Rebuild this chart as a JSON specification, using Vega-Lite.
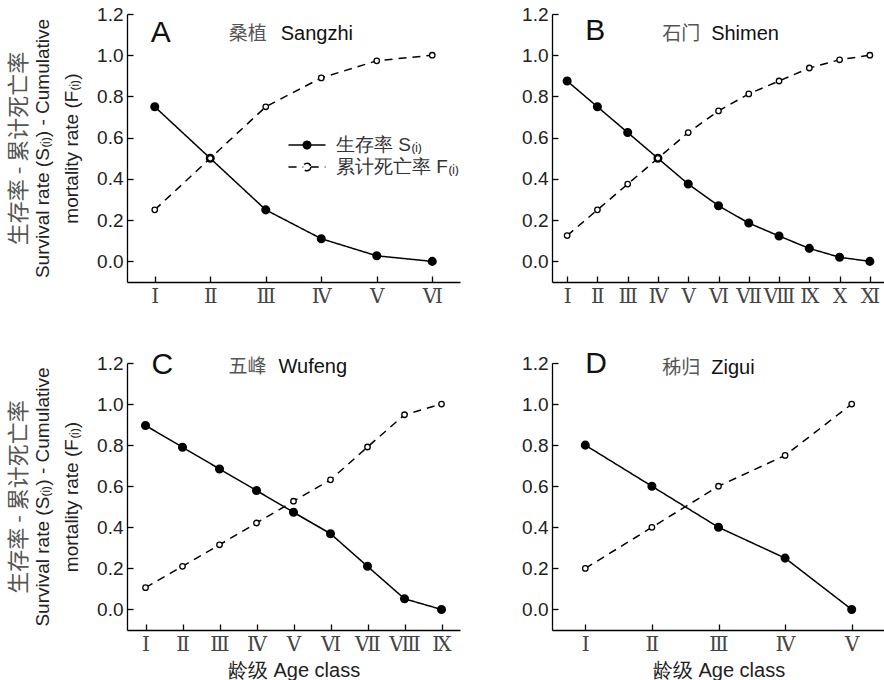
{
  "$schema": "https://vega.github.io/schema/vega-lite/v6.json",
  "padding": {"left": 7, "top": 5, "right": 0, "bottom": 0},
  "background": "white",
  "config": {
    "view": {"stroke": null},
    "font": "Liberation Sans",
    "axis": {
      "grid": false,
      "domainColor": "#000",
      "tickColor": "#000",
      "domainWidth": 1.3,
      "tickWidth": 1.3,
      "labelFont": "Liberation Sans",
      "labelFontSize": 19,
      "labelColor": "#222",
      "titleFont": "Liberation Sans",
      "titleFontWeight": "normal",
      "titleFontSize": 19,
      "titleColor": "#222"
    }
  },
  "columns": 2,
  "spacing": {"row": 43, "column": 56},
  "resolve": {"scale": {"strokeDash": "independent", "fill": "independent"}, "legend": {"strokeDash": "independent"}},
  "concat": [
    {
      "width": 333, "height": 268,
      "data": {"values": [
        {"age": "Ⅰ", "series": "S", "value": 0.75}, {"age": "Ⅱ", "series": "S", "value": 0.5}, {"age": "Ⅲ", "series": "S", "value": 0.25},
        {"age": "Ⅳ", "series": "S", "value": 0.11}, {"age": "Ⅴ", "series": "S", "value": 0.027}, {"age": "Ⅵ", "series": "S", "value": 0.0},
        {"age": "Ⅰ", "series": "F", "value": 0.25}, {"age": "Ⅱ", "series": "F", "value": 0.5}, {"age": "Ⅲ", "series": "F", "value": 0.75},
        {"age": "Ⅳ", "series": "F", "value": 0.89}, {"age": "Ⅴ", "series": "F", "value": 0.973}, {"age": "Ⅵ", "series": "F", "value": 1.0}
      ]},
      "resolve": {"scale": {"y": "independent"}},
      "layer": [
        {
          "encoding": {
            "x": {"field": "age", "type": "ordinal", "scale": {"domain": ["Ⅰ","Ⅱ","Ⅲ","Ⅳ","Ⅴ","Ⅵ"]},
                  "axis": {"title": null, "labelAngle": 0, "tickSize": -6, "labelPadding": 10, "labelFont": "DejaVu Serif", "labelFontSize": 20, "labelColor": "#444", "labelOverlap": false}},
            "y": {"field": "value", "type": "quantitative", "scale": {"domain": [-0.1, 1.2], "nice": false, "zero": false},
                  "axis": {"orient": "left", "values": [0, 0.2, 0.4, 0.6, 0.8, 1.0, 1.2], "format": ".1f", "tickSize": -6, "labelPadding": 10,
                           "title": ["Survival rate (S₍ᵢ₎) - Cumulative", "mortality rate (F₍ᵢ₎)"], "titleLineHeight": 29, "titlePadding": 15}}
          },
          "layer": [
            {"mark": {"type": "line", "stroke": "black", "strokeWidth": 1.5},
             "encoding": {"strokeDash": {"field": "series", "type": "nominal", "scale": {"domain": ["S", "F"], "range": [[1, 0], [8, 6]]},
               "legend": {"orient": "none", "legendX": 168, "legendY": 119, "title": null, "rowPadding": 0,
                 "symbolType": "M-1.68,0H-0.34M0.34,0H1.68M0.34,0A0.34,0.34,0,1,1,-0.34,0A0.34,0.34,0,1,1,0.34,0Z",
                 "symbolSize": 484, "symbolStrokeColor": "black", "symbolStrokeWidth": 1.5,
                 "labelFont": "Liberation Sans", "labelFontSize": 19, "labelColor": "#333", "labelOffset": 17,
                 "labelExpr": "datum.value == 'S' ? '生存率  S₍ᵢ₎' : '累计死亡率  F₍ᵢ₎'",
                 "encode": {"symbols": {"update": {
                   "fill": {"signal": "datum.value == 'S' ? 'black' : 'white'"},
                   "stroke": {"value": "black"},
                   "strokeWidth": {"value": 1.5},
                   "opacity": {"value": 1},
                   "strokeOpacity": {"value": 1},
                   "fillOpacity": {"value": 1}}}}}}}},
            {"transform": [{"filter": "datum.series == 'S'"}], "mark": {"type": "point", "shape": "circle", "filled": true, "fill": "black", "stroke": "black", "size": 50, "opacity": 1}},
            {"transform": [{"filter": "datum.series == 'F'"}], "mark": {"type": "point", "shape": "circle", "filled": true, "fill": "white", "stroke": "black", "strokeWidth": 1.3, "size": 30, "opacity": 1}},
            {"transform": [{"filter": "datum.age == 'Ⅰ' && datum.series == 'S'"}],
             "mark": {"type": "text", "align": "left", "baseline": "middle", "fontSize": 30, "dx": -4, "color": "#111"},
             "encoding": {"y": {"datum": 1.108}, "text": {"value": "A"}}},
            {"transform": [{"filter": "datum.age == 'Ⅰ' && datum.series == 'S'"}],
             "mark": {"type": "text", "align": "left", "baseline": "middle", "fontSize": 19, "font": "Noto Sans CJK SC", "dx": 74, "color": "#555"},
             "encoding": {"y": {"datum": 1.105}, "text": {"value": "桑植"}}},
            {"transform": [{"filter": "datum.age == 'Ⅰ' && datum.series == 'S'"}],
             "mark": {"type": "text", "align": "left", "baseline": "middle", "fontSize": 20, "dx": 126, "color": "#111"},
             "encoding": {"y": {"datum": 1.105}, "text": {"value": "Sangzhi"}}}
          ]
        },
        {
          "mark": {"type": "point", "opacity": 0},
          "encoding": {
            "x": {"field": "age", "type": "ordinal"},
            "y": {"field": "value", "type": "quantitative", "scale": {"domain": [-0.1, 1.2], "nice": false, "zero": false},
                  "axis": {"orient": "left", "labels": false, "ticks": false, "domain": false, "title": "生存率 - 累计死亡率", "offset": 97,
                           "titleFont": "Noto Sans CJK SC", "titleFontSize": 22, "titleColor": "#555", "titlePadding": 0}}
          }
        }
      ]
    },
    {
      "width": 333, "height": 268,
      "data": {"values": [
        {"age": "Ⅰ", "series": "S", "value": 0.875}, {"age": "Ⅱ", "series": "S", "value": 0.75}, {"age": "Ⅲ", "series": "S", "value": 0.625},
        {"age": "Ⅳ", "series": "S", "value": 0.5}, {"age": "Ⅴ", "series": "S", "value": 0.375}, {"age": "Ⅵ", "series": "S", "value": 0.27},
        {"age": "Ⅶ", "series": "S", "value": 0.186}, {"age": "Ⅷ", "series": "S", "value": 0.123}, {"age": "Ⅸ", "series": "S", "value": 0.063},
        {"age": "Ⅹ", "series": "S", "value": 0.02}, {"age": "Ⅺ", "series": "S", "value": 0.0},
        {"age": "Ⅰ", "series": "F", "value": 0.125}, {"age": "Ⅱ", "series": "F", "value": 0.25}, {"age": "Ⅲ", "series": "F", "value": 0.375},
        {"age": "Ⅳ", "series": "F", "value": 0.5}, {"age": "Ⅴ", "series": "F", "value": 0.625}, {"age": "Ⅵ", "series": "F", "value": 0.73},
        {"age": "Ⅶ", "series": "F", "value": 0.8125}, {"age": "Ⅷ", "series": "F", "value": 0.875}, {"age": "Ⅸ", "series": "F", "value": 0.938},
        {"age": "Ⅹ", "series": "F", "value": 0.978}, {"age": "Ⅺ", "series": "F", "value": 1.0}
      ]},
      "encoding": {
        "x": {"field": "age", "type": "ordinal", "scale": {"domain": ["Ⅰ","Ⅱ","Ⅲ","Ⅳ","Ⅴ","Ⅵ","Ⅶ","Ⅷ","Ⅸ","Ⅹ","Ⅺ"]},
              "axis": {"title": null, "labelAngle": 0, "tickSize": -6, "labelPadding": 10, "labelFont": "DejaVu Serif", "labelFontSize": 20, "labelColor": "#444", "labelOverlap": false}},
        "y": {"field": "value", "type": "quantitative", "scale": {"domain": [-0.1, 1.2], "nice": false, "zero": false},
              "axis": {"values": [0, 0.2, 0.4, 0.6, 0.8, 1.0, 1.2], "format": ".1f", "tickSize": -6, "labelPadding": 10, "title": null}}
      },
      "layer": [
        {"mark": {"type": "line", "stroke": "black", "strokeWidth": 1.5},
         "encoding": {"strokeDash": {"field": "series", "type": "nominal", "scale": {"domain": ["S", "F"], "range": [[1, 0], [8, 6]]}, "legend": null}}},
        {"transform": [{"filter": "datum.series == 'S'"}], "mark": {"type": "point", "shape": "circle", "filled": true, "fill": "black", "stroke": "black", "size": 50, "opacity": 1}},
        {"transform": [{"filter": "datum.series == 'F'"}], "mark": {"type": "point", "shape": "circle", "filled": true, "fill": "white", "stroke": "black", "strokeWidth": 1.3, "size": 30, "opacity": 1}},
        {"transform": [{"filter": "datum.age == 'Ⅰ' && datum.series == 'S'"}],
         "mark": {"type": "text", "align": "left", "baseline": "middle", "fontSize": 30, "dx": 18, "color": "#111"},
         "encoding": {"y": {"datum": 1.117}, "text": {"value": "B"}}},
        {"transform": [{"filter": "datum.age == 'Ⅰ' && datum.series == 'S'"}],
         "mark": {"type": "text", "align": "left", "baseline": "middle", "fontSize": 19, "font": "Noto Sans CJK SC", "dx": 95, "color": "#555"},
         "encoding": {"y": {"datum": 1.105}, "text": {"value": "石门"}}},
        {"transform": [{"filter": "datum.age == 'Ⅰ' && datum.series == 'S'"}],
         "mark": {"type": "text", "align": "left", "baseline": "middle", "fontSize": 20, "dx": 144, "color": "#111"},
         "encoding": {"y": {"datum": 1.105}, "text": {"value": "Shimen"}}}
      ]
    },
    {
      "width": 333, "height": 267,
      "data": {"values": [
        {"age": "Ⅰ", "series": "S", "value": 0.896}, {"age": "Ⅱ", "series": "S", "value": 0.79}, {"age": "Ⅲ", "series": "S", "value": 0.684},
        {"age": "Ⅳ", "series": "S", "value": 0.579}, {"age": "Ⅴ", "series": "S", "value": 0.473}, {"age": "Ⅵ", "series": "S", "value": 0.369},
        {"age": "Ⅶ", "series": "S", "value": 0.21}, {"age": "Ⅷ", "series": "S", "value": 0.052}, {"age": "Ⅸ", "series": "S", "value": 0.0},
        {"age": "Ⅰ", "series": "F", "value": 0.106}, {"age": "Ⅱ", "series": "F", "value": 0.21}, {"age": "Ⅲ", "series": "F", "value": 0.315},
        {"age": "Ⅳ", "series": "F", "value": 0.421}, {"age": "Ⅴ", "series": "F", "value": 0.527}, {"age": "Ⅵ", "series": "F", "value": 0.631},
        {"age": "Ⅶ", "series": "F", "value": 0.791}, {"age": "Ⅷ", "series": "F", "value": 0.948}, {"age": "Ⅸ", "series": "F", "value": 1.0}
      ]},
      "resolve": {"scale": {"y": "independent"}},
      "layer": [
        {
          "encoding": {
            "x": {"field": "age", "type": "ordinal", "scale": {"domain": ["Ⅰ","Ⅱ","Ⅲ","Ⅳ","Ⅴ","Ⅵ","Ⅶ","Ⅷ","Ⅸ"]},
                  "axis": {"title": "龄级  Age class", "titleFontSize": 20, "titlePadding": 6, "labelAngle": 0, "tickSize": -6, "labelPadding": 10, "labelFont": "DejaVu Serif", "labelFontSize": 20, "labelColor": "#444", "labelOverlap": false}},
            "y": {"field": "value", "type": "quantitative", "scale": {"domain": [-0.1, 1.2], "nice": false, "zero": false},
                  "axis": {"orient": "left", "values": [0, 0.2, 0.4, 0.6, 0.8, 1.0, 1.2], "format": ".1f", "tickSize": -6, "labelPadding": 10,
                           "title": ["Survival rate (S₍ᵢ₎) - Cumulative", "mortality rate (F₍ᵢ₎)"], "titleLineHeight": 29, "titlePadding": 15}}
          },
          "layer": [
            {"mark": {"type": "line", "stroke": "black", "strokeWidth": 1.5},
             "encoding": {"strokeDash": {"field": "series", "type": "nominal", "scale": {"domain": ["S", "F"], "range": [[1, 0], [8, 6]]}, "legend": null}}},
            {"transform": [{"filter": "datum.series == 'S'"}], "mark": {"type": "point", "shape": "circle", "filled": true, "fill": "black", "stroke": "black", "size": 50, "opacity": 1}},
            {"transform": [{"filter": "datum.series == 'F'"}], "mark": {"type": "point", "shape": "circle", "filled": true, "fill": "white", "stroke": "black", "strokeWidth": 1.3, "size": 30, "opacity": 1}},
            {"transform": [{"filter": "datum.age == 'Ⅰ' && datum.series == 'S'"}],
             "mark": {"type": "text", "align": "left", "baseline": "middle", "fontSize": 30, "dx": 6, "color": "#111"},
             "encoding": {"y": {"datum": 1.19}, "text": {"value": "C"}}},
            {"transform": [{"filter": "datum.age == 'Ⅰ' && datum.series == 'S'"}],
             "mark": {"type": "text", "align": "left", "baseline": "middle", "fontSize": 19, "font": "Noto Sans CJK SC", "dx": 83, "color": "#555"},
             "encoding": {"y": {"datum": 1.18}, "text": {"value": "五峰"}}},
            {"transform": [{"filter": "datum.age == 'Ⅰ' && datum.series == 'S'"}],
             "mark": {"type": "text", "align": "left", "baseline": "middle", "fontSize": 20, "dx": 133, "color": "#111"},
             "encoding": {"y": {"datum": 1.18}, "text": {"value": "Wufeng"}}}
          ]
        },
        {
          "mark": {"type": "point", "opacity": 0},
          "encoding": {
            "x": {"field": "age", "type": "ordinal"},
            "y": {"field": "value", "type": "quantitative", "scale": {"domain": [-0.1, 1.2], "nice": false, "zero": false},
                  "axis": {"orient": "left", "labels": false, "ticks": false, "domain": false, "title": "生存率 - 累计死亡率", "offset": 97,
                           "titleFont": "Noto Sans CJK SC", "titleFontSize": 22, "titleColor": "#555", "titlePadding": 0}}
          }
        }
      ]
    },
    {
      "width": 333, "height": 267,
      "data": {"values": [
        {"age": "Ⅰ", "series": "S", "value": 0.8}, {"age": "Ⅱ", "series": "S", "value": 0.6}, {"age": "Ⅲ", "series": "S", "value": 0.4},
        {"age": "Ⅳ", "series": "S", "value": 0.25}, {"age": "Ⅴ", "series": "S", "value": 0.0},
        {"age": "Ⅰ", "series": "F", "value": 0.2}, {"age": "Ⅱ", "series": "F", "value": 0.4}, {"age": "Ⅲ", "series": "F", "value": 0.6},
        {"age": "Ⅳ", "series": "F", "value": 0.75}, {"age": "Ⅴ", "series": "F", "value": 1.0}
      ]},
      "encoding": {
        "x": {"field": "age", "type": "ordinal", "scale": {"domain": ["Ⅰ","Ⅱ","Ⅲ","Ⅳ","Ⅴ"]},
              "axis": {"title": "龄级  Age class", "titleFontSize": 20, "titlePadding": 6, "labelAngle": 0, "tickSize": -6, "labelPadding": 10, "labelFont": "DejaVu Serif", "labelFontSize": 20, "labelColor": "#444", "labelOverlap": false}},
        "y": {"field": "value", "type": "quantitative", "scale": {"domain": [-0.1, 1.2], "nice": false, "zero": false},
              "axis": {"values": [0, 0.2, 0.4, 0.6, 0.8, 1.0, 1.2], "format": ".1f", "tickSize": -6, "labelPadding": 10, "title": null}}
      },
      "layer": [
        {"mark": {"type": "line", "stroke": "black", "strokeWidth": 1.5},
         "encoding": {"strokeDash": {"field": "series", "type": "nominal", "scale": {"domain": ["S", "F"], "range": [[1, 0], [8, 6]]}, "legend": null}}},
        {"transform": [{"filter": "datum.series == 'S'"}], "mark": {"type": "point", "shape": "circle", "filled": true, "fill": "black", "stroke": "black", "size": 50, "opacity": 1}},
        {"transform": [{"filter": "datum.series == 'F'"}], "mark": {"type": "point", "shape": "circle", "filled": true, "fill": "white", "stroke": "black", "strokeWidth": 1.3, "size": 30, "opacity": 1}},
        {"transform": [{"filter": "datum.age == 'Ⅰ' && datum.series == 'S'"}],
         "mark": {"type": "text", "align": "left", "baseline": "middle", "fontSize": 30, "dx": 0, "color": "#111"},
         "encoding": {"y": {"datum": 1.195}, "text": {"value": "D"}}},
        {"transform": [{"filter": "datum.age == 'Ⅰ' && datum.series == 'S'"}],
         "mark": {"type": "text", "align": "left", "baseline": "middle", "fontSize": 19, "font": "Noto Sans CJK SC", "dx": 77, "color": "#555"},
         "encoding": {"y": {"datum": 1.175}, "text": {"value": "秭归"}}},
        {"transform": [{"filter": "datum.age == 'Ⅰ' && datum.series == 'S'"}],
         "mark": {"type": "text", "align": "left", "baseline": "middle", "fontSize": 20, "dx": 126, "color": "#111"},
         "encoding": {"y": {"datum": 1.175}, "text": {"value": "Zigui"}}}
      ]
    }
  ]
}
